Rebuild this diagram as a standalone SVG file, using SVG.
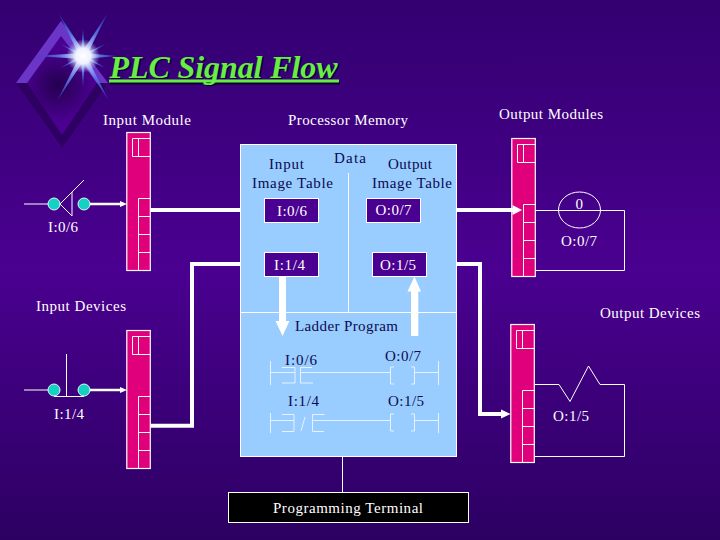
<svg xmlns="http://www.w3.org/2000/svg" width="720" height="540" viewBox="0 0 720 540">
<style>
.t{font-family:"Liberation Serif","Times New Roman",serif;font-size:15px;fill:#fff}
.d{fill:#0a0a50}
.l{fill:none;stroke:#fff;stroke-width:1}
.m{fill:#e0007c;stroke:#fff;stroke-width:1.2}
.c{fill:#12d2c4;stroke:#e8f4ff;stroke-width:1}
.th{fill:none;stroke:#fff;stroke-width:4}
.tn{fill:none;stroke:#fff;stroke-width:2.5}
.tb{fill:#4a0090;stroke:#fff;stroke-width:1}
.ld{fill:none;stroke:#e6f2ff;stroke-width:1}
</style>
<defs>
<linearGradient id="bg" x1="0" y1="0" x2="0" y2="1">
<stop offset="0" stop-color="#330070"/><stop offset="0.5" stop-color="#4a0090"/><stop offset="1" stop-color="#2c0062"/>
</linearGradient>
<radialGradient id="dia" gradientUnits="userSpaceOnUse" cx="58" cy="85" r="36">
<stop offset="0" stop-color="#24004e"/><stop offset="1" stop-color="#4a0090"/>
</radialGradient>
<radialGradient id="glow"><stop offset="0" stop-color="#fff"/><stop offset="0.45" stop-color="#eef2ff"/><stop offset="1" stop-color="#a0b0f0" stop-opacity="0"/></radialGradient>
<linearGradient id="ray" x1="0" y1="0" x2="1" y2="0"><stop offset="0" stop-color="#e8ecff"/><stop offset="0.5" stop-color="#5a72e0"/><stop offset="1" stop-color="#2f38b8" stop-opacity="0.75"/></linearGradient>
<polygon id="r" points="0,-3 1,0 0,3" fill="url(#ray)"/>
<g id="mod">
<rect class="m" x="0" y="0" width="23.5" height="138"/>
<path class="l" d="M5.7 6H23.5M5.7 6V24H23.5M11.7 6V24M11.700 138V66H23.5M11.7 84H23.5M11.7 102H23.5M11.7 120H23.5"/>
</g>
</defs>
<rect width="720" height="540" fill="url(#bg)"/>

<g id="logo">
<polygon points="61,21 16,83 61,148 108,83" fill="url(#dia)"/>
<polygon points="61,21 108,83 97,83 61,36 27,83 16,83" fill="#6b35c8"/>
<polygon points="16,83 27,83 62,135 97,83 108,83 62,148" fill="#2e0062"/>
<g transform="translate(83,56)">
<use href="#r" transform="rotate(-60) scale(49,1)"/>
<use href="#r" transform="rotate(-120) scale(49,1)"/>
<use href="#r" transform="rotate(120) scale(51,1)"/>
<use href="#r" transform="rotate(60) scale(51,1)"/>
<use href="#r" transform="rotate(180) scale(48,1)"/>
<use href="#r" transform="rotate(0) scale(34,1)"/>
<use href="#r" transform="rotate(-90) scale(28,0.7)"/>
<use href="#r" transform="rotate(90) scale(32,0.7)"/>
<use href="#r" transform="rotate(-28) scale(26,0.6)"/>
<use href="#r" transform="rotate(28) scale(26,0.6)"/>
<use href="#r" transform="rotate(-152) scale(26,0.6)"/>
<use href="#r" transform="rotate(152) scale(26,0.6)"/>
<circle r="17" fill="url(#glow)"/>
</g>
</g>

<g id="title">
<text x="111" y="79" font-family="'Liberation Serif',serif" font-size="32" font-weight="bold" font-style="italic" fill="#0c0030" textLength="228" lengthAdjust="spacing">PLC Signal Flow</text>
<rect x="110" y="81.500" width="230" height="3" fill="#0c0030"/>
<text x="109.500" y="77.500" font-family="'Liberation Serif',serif" font-size="32" font-weight="bold" font-style="italic" fill="#66ee44" textLength="228" lengthAdjust="spacing">PLC Signal Flow</text>
<rect x="109" y="79.500" width="230" height="3" fill="#66ee44"/>
</g>

<g id="labels">
<text class="t" x="103" y="125" textLength="88">Input Module</text>
<text class="t" x="288" y="125" textLength="120">Processor Memory</text>
<text class="t" x="499" y="119" textLength="104">Output Modules</text>
<text class="t" x="36" y="311" textLength="90">Input Devices</text>
<text class="t" x="600" y="318" textLength="100">Output Devices</text>
</g>

<g id="processor">
<rect x="240.500" y="144.500" width="216" height="312" fill="#99ccff" stroke="#fff"/>
<path class="l" d="M348.500 173V312.500M240.500 312.500H456.500"/>
<text class="t d" x="334" y="163" textLength="32">Data</text>
<text class="t d" x="269" y="169" textLength="35">Input</text>
<text class="t d" x="252" y="188" textLength="81">Image Table</text>
<text class="t d" x="388" y="169" textLength="44">Output</text>
<text class="t d" x="372" y="188" textLength="80">Image Table</text>
<text class="t d" x="295" y="331" textLength="103">Ladder Program</text>
</g>

<g id="tables">
<rect class="tb" x="264.500" y="198.500" width="54" height="24"/><text class="t" x="277" y="216" textLength="30">I:0/6</text>
<rect class="tb" x="366.500" y="198.500" width="54" height="24"/><text class="t" x="375.500" y="215" textLength="36">O:0/7</text>
<rect class="tb" x="264.500" y="252.500" width="54" height="24"/><text class="t" x="274" y="270" textLength="31">I:1/4</text>
<rect class="tb" x="372.500" y="252.500" width="54" height="24"/><text class="t" x="380" y="270" textLength="36">O:1/5</text>
</g>

<g id="ladder">
<path class="ld" d="M270.500 361V385M270.500 372.500H295M282 367.500H295V383H282M300.500 367.500V383H313M300.500 367.500H312M300.500 372.500H390.500M390.500 367V384M390.500 367H394M390.500 384H394M414.500 367H411M414.500 384H411M414.500 367V384M414.500 372.500H438.500M438.500 361V385"/>
<path class="ld" d="M270.500 413V433M270.500 420.500H294M282 414.500H294V431.500H282M301 431L305 417M312.500 414.500V431.500H324M312.500 414.500H324.500M312.500 420.500H390.500M390.500 414V431M390.500 414H394M390.500 431H394M414.500 414H411M414.500 431H411M414.500 414V431M414.500 420.500H438.500M438.500 413V433"/>
<text class="t d" x="285" y="365" textLength="32">I:0/6</text>
<text class="t d" x="385" y="361" textLength="36">O:0/7</text>
<text class="t d" x="288" y="406" textLength="31">I:1/4</text>
<text class="t d" x="388" y="406" textLength="36">O:1/5</text>
</g>

<g id="terminal">
<rect x="228.500" y="492.500" width="240" height="30" fill="#000" stroke="#fff"/>
<text class="t" x="273" y="513" textLength="150">Programming Terminal</text>
</g>

<g id="module-in-1"><use href="#mod" x="126.800" y="132.500"/></g>
<g id="module-in-2"><use href="#mod" x="126.800" y="330.500"/></g>
<g id="module-out-1"><use href="#mod" x="511.800" y="138.500"/></g>
<g id="module-out-2"><use href="#mod" x="510.800" y="324.500"/></g>

<g id="switch-1">
<path class="l" d="M24 204H48M60 204L84 180M60 204L72 216V192L60 204"/>
<circle class="c" cx="54" cy="204" r="6"/><circle class="c" cx="84" cy="204" r="6"/>
<text class="t" x="48" y="232" textLength="30">I:0/6</text>
</g>
<g id="switch-2">
<path class="l" d="M24 390H48M66.500 354V396M54 396.500H84"/>
<circle class="c" cx="54" cy="390" r="6"/><circle class="c" cx="84" cy="390" r="6"/>
<text class="t" x="54" y="419" textLength="30">I:1/4</text>
</g>

<g id="coil">
<ellipse class="l" cx="579.500" cy="210" rx="21" ry="18"/>
<path class="l" d="M535 210.500H624.500V270.500H535"/>
<text class="t" x="575.500" y="209" textLength="7.500">0</text>
<text class="t" x="561" y="246" textLength="36">O:0/7</text>
</g>
<g id="load">
<path class="l" d="M535 384.500H559L570 401.500L588.500 366L600 384.500H624.500V456.500H535"/>
<text class="t" x="553" y="421" textLength="36">O:1/5</text>
</g>

<g id="connectors">
<path class="tn" d="M90 204H121"/>
<path d="M120 201L127 204L120 207Z" fill="#fff"/>
<path class="tn" d="M90 390H121"/>
<path d="M120 387L127 390L120 393Z" fill="#fff"/>
<path class="th" d="M150 210H240"/>
<path class="th" d="M240 264H192V425.700H150"/>
<path class="th" d="M456 210H514"/>
<path d="M512.500 205L522 210L512.500 215Z" fill="#fff"/>
<path class="th" d="M456 264H480V414H502"/>
<path d="M501 409.500L510.500 414L501 418.500Z" fill="#fff"/>
<path d="M279 276.500H286V321H289.500L282.500 336L275.500 321H279Z" fill="#fff"/>
<path d="M411 336V291.500H407.500L414.500 276.500L421 291.500H418.300V336Z" fill="#fff"/>
<path class="l" d="M342.500 456.500V492.500"/>
</g>
</svg>
